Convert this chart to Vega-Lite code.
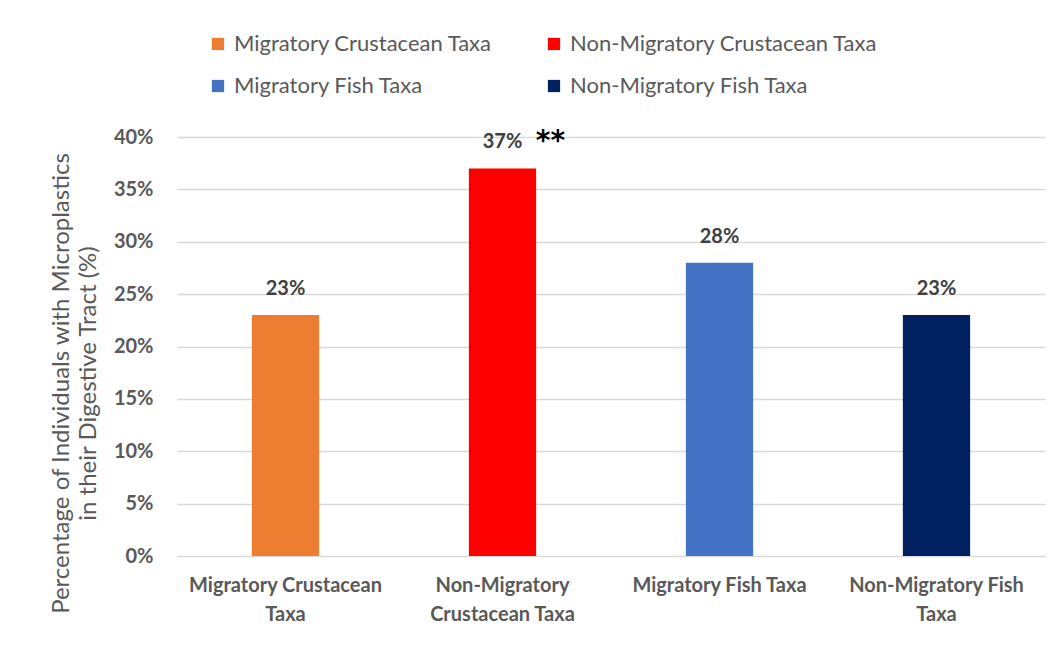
{
  "$schema": "https://vega.github.io/schema/vega-lite/v6.json",
  "width": 868,
  "height": 419,
  "autosize": {"type": "none"},
  "padding": {"left": 177, "top": 137, "right": 17, "bottom": 89},
  "background": "white",
  "config": {
    "font": "Lato",
    "view": {"stroke": null}
  },
  "data": {
    "values": [
      {"taxa": "Migratory Crustacean Taxa", "pct": 0.23, "label": "23%", "sig": ""},
      {"taxa": "Non-Migratory Crustacean Taxa", "pct": 0.37, "label": "37%", "sig": "**"},
      {"taxa": "Migratory Fish Taxa", "pct": 0.28, "label": "28%", "sig": ""},
      {"taxa": "Non-Migratory Fish Taxa", "pct": 0.23, "label": "23%", "sig": ""}
    ]
  },
  "encoding": {
    "x": {
      "field": "taxa",
      "type": "nominal",
      "sort": null,
      "scale": {"paddingInner": 0.69, "paddingOuter": 0.345},
      "axis": {
        "title": null,
        "labelAngle": 0,
        "labelFont": "Lato",
        "labelFontWeight": "bold",
        "labelFontSize": 20,
        "labelColor": "#595959",
        "labelPadding": 19,
        "labelLineHeight": 29,
        "labelLimit": 300,
        "ticks": false,
        "domainColor": "#d9d9d9",
        "labelExpr": "datum.label == 'Migratory Crustacean Taxa' ? ['Migratory Crustacean', 'Taxa'] : datum.label == 'Non-Migratory Crustacean Taxa' ? ['Non-Migratory', 'Crustacean Taxa'] : datum.label == 'Non-Migratory Fish Taxa' ? ['Non-Migratory Fish', 'Taxa'] : datum.label"
      }
    },
    "y": {
      "field": "pct",
      "type": "quantitative",
      "scale": {"domain": [0, 0.4]},
      "axis": {
        "values": [0, 0.05, 0.1, 0.15, 0.2, 0.25, 0.3, 0.35, 0.4],
        "format": ".0%",
        "title": ["Percentage of Individuals with Microplastics", "in their Digestive Tract (%)"],
        "titleFont": "Lato",
        "titleFontWeight": "normal",
        "titleFontSize": 24,
        "titleColor": "#595959",
        "titleLineHeight": 27,
        "titlePadding": 13,
        "titleY": 246,
        "labelFont": "Lato",
        "labelFontWeight": "bold",
        "labelFontSize": 20,
        "labelColor": "#595959",
        "labelPadding": 24,
        "ticks": false,
        "domain": false,
        "gridColor": "#d9d9d9",
        "gridWidth": 1.5
      }
    }
  },
  "layer": [
    {
      "mark": {"type": "bar"},
      "encoding": {
        "color": {
          "field": "taxa",
          "type": "nominal",
          "scale": {
            "domain": ["Migratory Crustacean Taxa", "Migratory Fish Taxa", "Non-Migratory Crustacean Taxa", "Non-Migratory Fish Taxa"],
            "range": ["#ED7D31", "#4472C4", "#FF0000", "#002060"]
          },
          "legend": {
            "title": null,
            "orient": "none",
            "legendX": 30,
            "legendY": -104,
            "columns": 2,
            "columnPadding": 50,
            "rowPadding": 20,
            "symbolType": "square",
            "symbolSize": 150,
            "symbolStrokeWidth": 0,
            "labelFont": "Lato",
            "labelFontSize": 22,
            "labelColor": "#595959",
            "labelOffset": 5,
            "labelLimit": 400
          }
        }
      }
    },
    {
      "mark": {"type": "text", "dy": -26, "fontWeight": "bold", "fontSize": 20, "color": "#404040", "font": "Lato"},
      "encoding": {"text": {"field": "label"}}
    },
    {
      "mark": {"type": "text", "dy": -26, "dx": 48, "fontWeight": "bold", "fontSize": 28, "color": "#000000", "font": "DejaVu Sans"},
      "encoding": {"text": {"field": "sig"}}
    }
  ]
}
